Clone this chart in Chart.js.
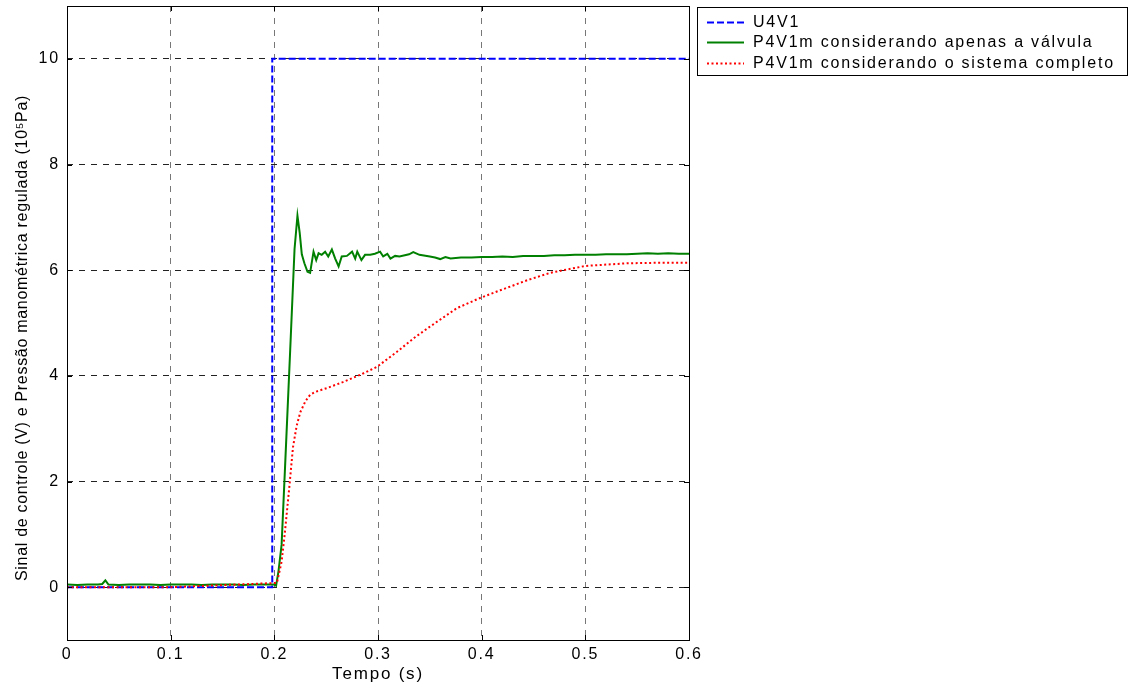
<!DOCTYPE html>
<html>
<head>
<meta charset="utf-8">
<script src="https://cdn.jsdelivr.net/npm/chart.js@4.4.1/dist/chart.umd.min.js"></script>
<style>
html,body{margin:0;padding:0;background:#fff;}
#wrap{width:1131px;height:690px;}
</style>
</head>
<body>
<div id="wrap"><canvas id="c" width="1131" height="690"></canvas></div>
<script>
// ---- data ----
const seriesLabels = ["U4V1", "P4V1m considerando apenas a válvula", "P4V1m considerando o sistema completo"];
const xTicks = [0, 0.1, 0.2, 0.3, 0.4, 0.5, 0.6];
const yTicks = [0, 2, 4, 6, 8, 10];

const tU = [0, 0.198, 0.198, 0.6];
const vU = [0, 0, 10, 10];

const tValve = [0, 0.01, 0.02, 0.03, 0.034, 0.037, 0.040, 0.05, 0.06, 0.07, 0.08, 0.09, 0.1, 0.11, 0.12, 0.13, 0.14, 0.15, 0.16, 0.17, 0.18, 0.19, 0.2, 0.2017,
  0.204, 0.207, 0.2104, 0.2153, 0.2195, 0.2223, 0.2245, 0.2265, 0.229, 0.232, 0.2345, 0.2378, 0.2404, 0.2427, 0.2457, 0.249, 0.252, 0.2555, 0.2587, 0.262, 0.265,
  0.27, 0.275, 0.278, 0.280, 0.284, 0.2875, 0.2925, 0.297, 0.302, 0.305, 0.309, 0.312, 0.3165, 0.3207, 0.33, 0.334, 0.34, 0.35, 0.355, 0.36, 0.365, 0.37, 0.38,
  0.39, 0.40, 0.41, 0.42, 0.43, 0.44, 0.45, 0.46, 0.47, 0.48, 0.49, 0.50, 0.51, 0.52, 0.53, 0.54, 0.55, 0.56, 0.57, 0.58, 0.59, 0.6];
const vValve = [0.05, 0.04, 0.05, 0.05, 0.06, 0.13, 0.05, 0.04, 0.05, 0.05, 0.05, 0.04, 0.05, 0.05, 0.05, 0.04, 0.05, 0.05, 0.05, 0.04, 0.05, 0.05, 0.05, 0.03,
  0.3, 0.8, 2.3, 4.49, 6.4, 7.03, 6.7, 6.3, 6.13, 5.97, 5.95, 6.35, 6.19, 6.32, 6.29, 6.35, 6.26, 6.39, 6.22, 6.07, 6.26,
  6.27, 6.35, 6.22, 6.35, 6.19, 6.29, 6.29, 6.31, 6.35, 6.26, 6.31, 6.22, 6.27, 6.26, 6.30, 6.34, 6.29, 6.26, 6.24, 6.21, 6.25, 6.22, 6.24,
  6.24, 6.25, 6.25, 6.26, 6.25, 6.27, 6.27, 6.27, 6.28, 6.28, 6.29, 6.29, 6.29, 6.30, 6.30, 6.30, 6.31, 6.32, 6.31, 6.32, 6.31, 6.31];

const tSystem = [0, 0.1, 0.2025, 0.207, 0.21, 0.214, 0.218, 0.2215, 0.225, 0.23, 0.2345, 0.24, 0.251, 0.266, 0.283, 0.299, 0.318, 0.335, 0.35, 0.376, 0.398,
  0.418, 0.444, 0.466, 0.5, 0.54, 0.57, 0.6];
const vSystem = [0, 0, 0.08, 0.48, 1.0, 1.8, 2.65, 3.05, 3.31, 3.52, 3.64, 3.7, 3.77, 3.88, 4.02, 4.17, 4.45, 4.72, 4.93, 5.28, 5.47,
  5.62, 5.81, 5.95, 6.08, 6.13, 6.14, 6.14];

const toXY = (t, v) => t.map((x, i) => ({x: x, y: v[i]}));

const FONT = "'Liberation Sans', Arial, Helvetica, sans-serif";
const SPACING = '1.8px';

const textStyle = {
  id: 'textStyle',
  beforeDraw(chart) {
    chart.ctx.letterSpacing = SPACING;
    const ys = chart.scales.y;
    if (ys && !ys._titleWrapped) {
      const orig = ys.drawTitle;
      ys.drawTitle = function () {
        const c = this.ctx;
        c.save();
        c.letterSpacing = '0.7px';
        c.translate(0, 15);
        orig.call(this);
        c.restore();
      };
      ys._titleWrapped = true;
    }
  }
};

const frame = {
  id: 'frame',
  afterDraw(chart) {
    const {ctx, chartArea: a} = chart;
    ctx.save();
    const xs = chart.scales.x, ys = chart.scales.y;
    ctx.strokeStyle = '#000'; ctx.lineWidth = 1; ctx.setLineDash([]);
    ctx.beginPath();
    xTicks.forEach(t => {
      const px = Math.round(xs.getPixelForValue(t)) + 0.5;
      ctx.moveTo(px, a.bottom); ctx.lineTo(px, a.bottom - 5);
      ctx.moveTo(px, a.top); ctx.lineTo(px, a.top + 5);
    });
    yTicks.forEach(t => {
      const py = Math.round(ys.getPixelForValue(t)) + 0.5;
      ctx.moveTo(a.left, py); ctx.lineTo(a.left + 5, py);
      ctx.moveTo(a.right, py); ctx.lineTo(a.right - 5, py);
    });
    ctx.stroke();
    ctx.strokeRect(Math.round(a.left) + 0.5, Math.round(a.top) + 0.5, Math.round(a.right - a.left), Math.round(a.bottom - a.top));
    // legend box
    const bx = 697.5, by = 7.5, bw = 430, bh = 68;
    ctx.fillStyle = '#fff';
    ctx.fillRect(bx, by, bw, bh);
    ctx.strokeStyle = '#000';
    ctx.strokeRect(bx, by, bw, bh);
    const rows = [21.5, 42, 62.5];
    chart.data.datasets.forEach((ds, i) => {
      const y = Math.round(rows[i]) + 0.5;
      ctx.strokeStyle = ds.borderColor;
      ctx.lineWidth = ds.borderWidth;
      ctx.setLineDash(ds.borderDash || []);
      ctx.beginPath(); ctx.moveTo(707, y); ctx.lineTo(744, y); ctx.stroke();
      ctx.setLineDash([]);
      ctx.fillStyle = '#000';
      ctx.font = '16px ' + FONT;
      ctx.letterSpacing = SPACING;
      ctx.textBaseline = 'middle';
      ctx.textAlign = 'left';
      ctx.fillText(ds.label, 753, rows[i] + 1);
    });
    ctx.restore();
  }
};

new Chart(document.getElementById('c'), {
  type: 'line',
  data: {
    datasets: [
      {label: seriesLabels[0], data: toXY(tU, vU), borderColor: '#0000ff', borderWidth: 2, borderDash: [7, 3], pointRadius: 0, fill: false, order: 3},
      {label: seriesLabels[1], data: toXY(tValve, vValve), borderColor: '#008000', borderWidth: 2, pointRadius: 0, fill: false, order: 2},
      {label: seriesLabels[2], data: toXY(tSystem, vSystem), borderColor: '#ff0000', borderWidth: 2, borderDash: [2, 2.5], pointRadius: 0, fill: false, order: 1}
    ]
  },
  options: {
    responsive: false,
    animation: false,
    devicePixelRatio: 1,
    layout: {padding: {left: 0, right: 442, top: 6, bottom: 0}},
    plugins: {legend: {display: false}, tooltip: {enabled: false}},
    elements: {line: {tension: 0}},
    scales: {
      x: {
        type: 'linear', min: 0, max: 0.6,
        afterBuildTicks: s => { s.ticks = xTicks.map(v => ({value: v})); },
        afterFit: s => { s.height = 50; s.paddingLeft = 0; s.paddingRight = 0; },
        grid: {color: '#777', lineWidth: 1, drawTicks: false},
        border: {display: false, dash: [6, 6]},
        ticks: {color: '#000', font: {family: FONT, size: 16}, padding: 5, maxRotation: 0,
          callback: v => String(Number(v.toFixed(1)))},
        title: {display: true, text: 'Tempo (s)', color: '#000', font: {family: FONT, size: 17}, padding: {top: 0, bottom: 5}}
      },
      y: {
        type: 'linear', min: -1, max: 11,
        afterBuildTicks: s => { s.ticks = yTicks.map(v => ({value: v})); },
        afterFit: s => { s.width = 67; s.paddingTop = 0; s.paddingBottom = 0; },
        grid: {color: '#222', lineWidth: 1, drawTicks: false},
        border: {display: false, dash: [6, 6]},
        ticks: {color: '#000', font: {family: FONT, size: 16}, padding: 7},
        title: {display: true, text: 'Sinal de controle (V) e Pressão manométrica regulada (10⁵Pa)', color: '#000', font: {family: FONT, size: 16}, padding: {top: 13, bottom: 0}}
      }
    }
  },
  plugins: [textStyle, frame]
});
</script>
</body>
</html>
